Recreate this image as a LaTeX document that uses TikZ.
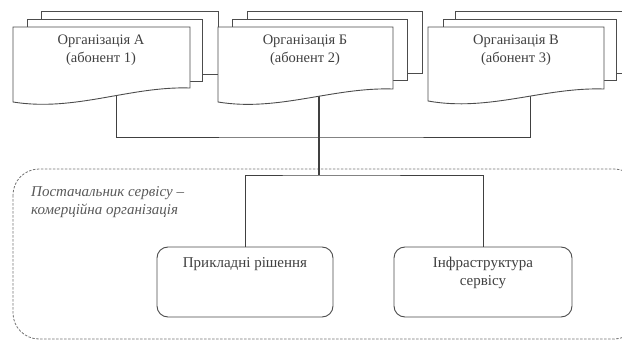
\documentclass[tikz,border=0pt]{standalone}
\usepackage{fontspec}
\setmainfont{Liberation Serif}
\begin{document}
\begin{tikzpicture}[x=1pt,y=-1pt,
  ln/.style={draw=black!70, line width=0.9pt},
  page/.style={ln, fill=white},
  lbl/.style={text=black!75, font=\fontsize{14.5}{18}\selectfont, align=center, inner sep=0pt},
  sbox/.style={ln, rounded corners=11pt, fill=white},
  conn/.style={draw=black!75, line width=1pt}]
\useasboundingbox (0,0) rectangle (622,340);
% provider region
\draw[black!55, line width=0.8pt, dash pattern=on 2.5pt off 1.5pt, rounded corners=26pt]
  (13,169) rectangle (640,339);
% attachment points
\coordinate (aB) at (116,92);
\coordinate (bB) at (319,90);
\coordinate (cB) at (530,92);
\coordinate (hub) at (319,175);
\coordinate (bus) at (319,137);
% connectors (drawn first, documents cover their ends)
\draw[conn] (aB) |- (bus) -| (cB);
\draw[conn, line width=1.3pt] (bB) -- (hub);
% organisation A
\draw[page] (41,11) rectangle (218,74);
\draw[page] (27,19) rectangle (202,81);
\draw[page] (13,27) -- (190,27) -- (190,88)
  .. controls (130,86) and (75,112) .. (13,102) -- cycle;
\node[lbl, anchor=north] (orgA) at (101,35) {Організація А\\(абонент 1)};
% organisation B
\draw[page] (247,11) rectangle (422,73);
\draw[page] (232,19) rectangle (407,80);
\draw[page] (218,27) -- (393,27) -- (393,89)
  .. controls (333,87) and (278,112) .. (218,102) -- cycle;
\node[lbl, anchor=north] (orgB) at (305,35) {Організація Б\\(абонент 2)};
% organisation C
\draw[page] (455,11) rectangle (630,73);
\draw[page] (443,19) rectangle (616,80);
\draw[page] (428,27) -- (604,27) -- (604,89)
  .. controls (544,87) and (489,112) .. (428,101) -- cycle;
\node[lbl, anchor=north] (orgC) at (516,35) {Організація В\\(абонент 3)};
% provider label
\node[text=black!65, font=\itshape\fontsize{15}{18}\selectfont, align=left, anchor=north west, inner sep=0pt]
  (prov) at (31,186) {Постачальник сервісу –\\комерційна організація};
% service boxes
\draw[sbox] (157,247) rectangle (333,317);
\node[lbl, anchor=north, font=\fontsize{15}{18}\selectfont] (app) at (245,257) {Прикладні рішення};
\draw[sbox] (394,247) rectangle (572,317);
\node[lbl, anchor=north, font=\fontsize{15}{18}\selectfont] (infra) at (483,257) {Інфраструктура\\сервісу};
\coordinate (appT) at (245,247);
\coordinate (infT) at (483,247);
\draw[conn] (appT) |- (hub) -| (infT);
\end{tikzpicture}
\end{document}
